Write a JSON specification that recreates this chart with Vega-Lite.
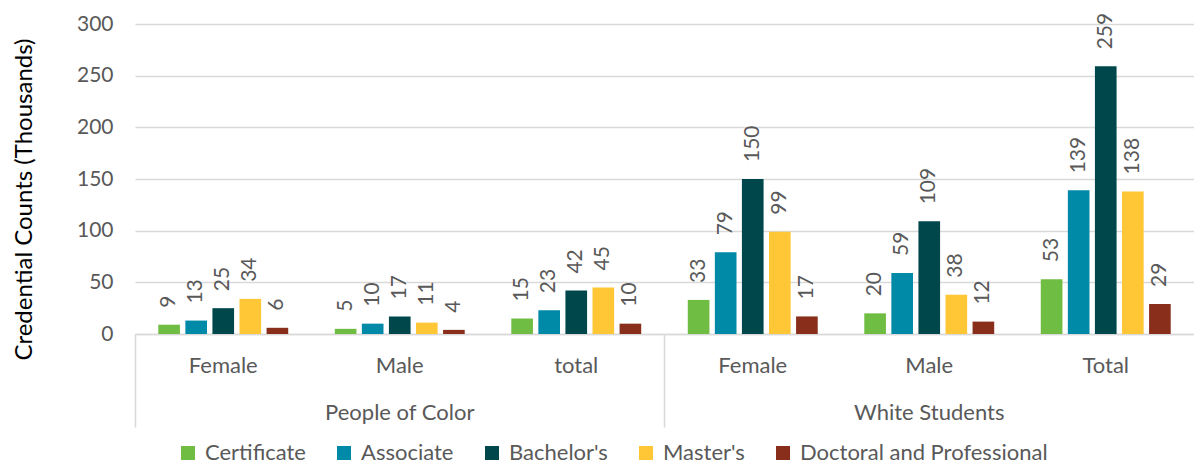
{
  "$schema": "https://vega.github.io/schema/vega-lite/v6.json",
  "width": 1194,
  "height": 464,
  "autosize": {"type": "fit", "contains": "padding"},
  "padding": {"left": 12, "top": 13, "right": 0, "bottom": 36},
  "config": {
    "view": {"stroke": null},
    "font": "Lato",
    "text": {"font": "Lato"}
  },
  "data": {
    "values": [
      {"group": "People of Color", "cat": "People of Color|Female", "series": "Certificate", "value": 9},
      {"group": "People of Color", "cat": "People of Color|Female", "series": "Associate", "value": 13},
      {"group": "People of Color", "cat": "People of Color|Female", "series": "Bachelor's", "value": 25},
      {"group": "People of Color", "cat": "People of Color|Female", "series": "Master's", "value": 34},
      {"group": "People of Color", "cat": "People of Color|Female", "series": "Doctoral and Professional", "value": 6},
      {"group": "People of Color", "cat": "People of Color|Male", "series": "Certificate", "value": 5},
      {"group": "People of Color", "cat": "People of Color|Male", "series": "Associate", "value": 10},
      {"group": "People of Color", "cat": "People of Color|Male", "series": "Bachelor's", "value": 17},
      {"group": "People of Color", "cat": "People of Color|Male", "series": "Master's", "value": 11},
      {"group": "People of Color", "cat": "People of Color|Male", "series": "Doctoral and Professional", "value": 4},
      {"group": "People of Color", "cat": "People of Color|total", "series": "Certificate", "value": 15},
      {"group": "People of Color", "cat": "People of Color|total", "series": "Associate", "value": 23},
      {"group": "People of Color", "cat": "People of Color|total", "series": "Bachelor's", "value": 42},
      {"group": "People of Color", "cat": "People of Color|total", "series": "Master's", "value": 45},
      {"group": "People of Color", "cat": "People of Color|total", "series": "Doctoral and Professional", "value": 10},
      {"group": "White Students", "cat": "White Students|Female", "series": "Certificate", "value": 33},
      {"group": "White Students", "cat": "White Students|Female", "series": "Associate", "value": 79},
      {"group": "White Students", "cat": "White Students|Female", "series": "Bachelor's", "value": 150},
      {"group": "White Students", "cat": "White Students|Female", "series": "Master's", "value": 99},
      {"group": "White Students", "cat": "White Students|Female", "series": "Doctoral and Professional", "value": 17},
      {"group": "White Students", "cat": "White Students|Male", "series": "Certificate", "value": 20},
      {"group": "White Students", "cat": "White Students|Male", "series": "Associate", "value": 59},
      {"group": "White Students", "cat": "White Students|Male", "series": "Bachelor's", "value": 109},
      {"group": "White Students", "cat": "White Students|Male", "series": "Master's", "value": 38},
      {"group": "White Students", "cat": "White Students|Male", "series": "Doctoral and Professional", "value": 12},
      {"group": "White Students", "cat": "White Students|Total", "series": "Certificate", "value": 53},
      {"group": "White Students", "cat": "White Students|Total", "series": "Associate", "value": 139},
      {"group": "White Students", "cat": "White Students|Total", "series": "Bachelor's", "value": 259},
      {"group": "White Students", "cat": "White Students|Total", "series": "Master's", "value": 138},
      {"group": "White Students", "cat": "White Students|Total", "series": "Doctoral and Professional", "value": 29}
    ]
  },
  "layer": [
    {
      "encoding": {
        "x": {
          "field": "cat",
          "type": "nominal",
          "sort": ["People of Color|Female", "People of Color|Male", "People of Color|total", "White Students|Female", "White Students|Male", "White Students|Total"],
          "scale": {"paddingInner": 0, "paddingOuter": 0},
          "axis": {
            "orient": "bottom",
            "title": null,
            "ticks": false,
            "grid": false,
            "labelExpr": "split(datum.label, '|')[1]",
            "labelAngle": 0,
            "labelFontSize": 22,
            "labelColor": "#595959",
            "labelPadding": 21,
            "domainColor": "#D9D9D9",
            "domainWidth": 1.5
          }
        },
        "xOffset": {
          "field": "series",
          "type": "nominal",
          "sort": ["Certificate", "Associate", "Bachelor's", "Master's", "Doctoral and Professional"],
          "scale": {"paddingInner": 0.2, "paddingOuter": 0.86}
        },
        "y": {
          "field": "value",
          "type": "quantitative",
          "scale": {"domain": [0, 300], "nice": false},
          "axis": {
            "values": [0, 50, 100, 150, 200, 250, 300],
            "title": "Credential Counts (Thousands)",
            "titleFontSize": 24,
            "titleFontWeight": "normal",
            "titleColor": "#000000",
            "titlePadding": 40,
            "titleY": 175,
            "domain": false,
            "ticks": false,
            "grid": true,
            "gridColor": "#D9D9D9",
            "gridWidth": 1.5,
            "labelFontSize": 21,
            "labelColor": "#595959",
            "labelPadding": 22
          }
        }
      },
      "layer": [
        {
          "mark": {"type": "bar"},
          "encoding": {
            "color": {
              "field": "series",
              "type": "nominal",
              "scale": {
                "domain": ["Certificate", "Associate", "Bachelor's", "Master's", "Doctoral and Professional"],
                "range": ["#70BD43", "#008AA8", "#00474C", "#FFC636", "#8A2E1C"]
              },
              "legend": {
                "orient": "none",
                "legendX": 42,
                "legendY": 418,
                "direction": "horizontal",
                "title": null,
                "symbolType": "square",
                "symbolSize": 196,
                "symbolStrokeWidth": 0,
                "labelFontSize": 22,
                "labelColor": "#595959",
                "labelLimit": 500,
                "labelOffset": 6,
                "columnPadding": 27
              }
            }
          }
        },
        {
          "mark": {"type": "text", "angle": 270, "align": "left", "baseline": "middle", "dx": 17, "fontSize": 21, "color": "#595959"},
          "encoding": {
            "text": {"field": "value", "type": "quantitative", "format": "d"}
          }
        }
      ]
    },
    {
      "mark": {"type": "bar", "opacity": 0},
      "encoding": {
        "x": {
          "field": "group",
          "type": "nominal",
          "scale": {"paddingInner": 0, "paddingOuter": 0},
          "axis": {
            "orient": "bottom",
            "title": null,
            "domain": false,
            "grid": false,
            "ticks": true,
            "tickSize": 93,
            "tickColor": "#D9D9D9",
            "tickWidth": 1.5,
            "bandPosition": 0,
            "labelAngle": 0,
            "labelPadding": -25,
            "labelFontSize": 22,
            "labelColor": "#595959"
          }
        },
        "y": {"field": "value", "type": "quantitative", "stack": null}
      }
    }
  ],
  "resolve": {"scale": {"x": "independent"}}
}
